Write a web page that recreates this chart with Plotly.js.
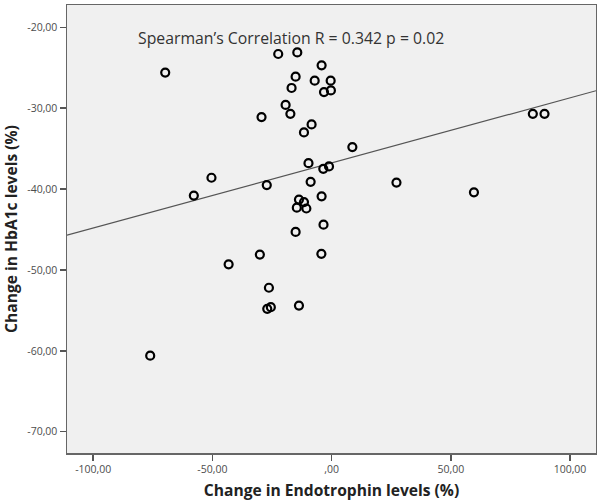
<!DOCTYPE html>
<html>
<head>
<meta charset="utf-8">
<script src="https://cdn.plot.ly/plotly-3.0.1.min.js"></script>
<style>html,body{margin:0;padding:0;background:#fff;}#chart{width:597px;height:504px;}</style>
</head>
<body>
<div id="chart"></div>
<script>
// Change in Endotrophin levels (%)
const endotrophinChange = [
  -69.8, -57.8, -76.1,
  -22.4, -14.4, -4.2, -15.1, -7.1, -0.4, -16.8, -3.2, -0.3, -19.3, -17.3, -29.4,
  -8.4, -11.6, 8.7, -9.7, -3.5, -1.1, -50.4, -27.2, -8.8, 27.2, -4.2, -13.7,
  -11.6, -14.6, -10.6, -3.4, -15.1,
  84.4, 89.3, 59.7,
  -43.2, -30.1, -4.3, -26.3, -27.0, -25.5, -13.7
];
// Change in HbA1c levels (%)
const hba1cChange = [
  -25.6, -40.8, -60.6,
  -23.3, -23.1, -24.7, -26.1, -26.6, -26.6, -27.5, -28.0, -27.8, -29.6, -30.7, -31.1,
  -32.0, -33.0, -34.8, -36.8, -37.5, -37.2, -38.6, -39.5, -39.1, -39.2, -40.9, -41.3,
  -41.6, -42.3, -42.4, -44.4, -45.3,
  -30.7, -30.7, -40.4,
  -49.3, -48.1, -48.0, -52.2, -54.8, -54.6, -54.4
];
// Linear fit (as drawn in the reference)
const fitIntercept = -36.77;
const fitSlope = 0.0805;

const xTickVals = [-100, -50, 0, 50, 100];
const xTickText = ["-100,00", "-50,00", ",00", "50,00", "100,00"];
const yTickVals = [-20, -30, -40, -50, -60, -70];
const yTickText = ["-20,00", "-30,00", "-40,00", "-50,00", "-60,00", "-70,00"];

const xRange = [-111.0, 110.9];
const yRange = [-72.63, -17.24];

const fitX = xRange.slice();
const fitY = fitX.map(x => fitIntercept + fitSlope * x);

const data = [
  {
    x: fitX, y: fitY, type: 'scatter', mode: 'lines',
    line: {color: '#555555', width: 1.2},
    hoverinfo: 'skip', showlegend: false
  },
  {
    x: endotrophinChange, y: hba1cChange, type: 'scatter', mode: 'markers',
    marker: {symbol: 'circle-open', size: 8, color: '#000000', line: {width: 2.2, color: '#000000'}},
    showlegend: false
  }
];

const tickFont = {family: 'Open Sans, sans-serif', size: 10.5, color: '#4d4d4d'};
const titleFont = {family: 'Open Sans, sans-serif', size: 15.6, color: '#222222', weight: 'bold'};

const layout = {
  width: 597, height: 504,
  margin: {l: 67, r: 1, t: 5, b: 51},
  paper_bgcolor: '#ffffff',
  plot_bgcolor: '#f0f0f0',
  showlegend: false,
  xaxis: {
    range: xRange, tickvals: xTickVals, ticktext: xTickText,
    ticks: 'outside', ticklen: 6, tickwidth: 1.5, tickcolor: '#555555',
    showgrid: false, zeroline: false,
    showline: true, mirror: true, linecolor: '#666666', linewidth: 1.5,
    tickfont: tickFont,
    title: {text: 'Change in Endotrophin levels (%)', font: titleFont, standoff: 10}
  },
  yaxis: {
    range: yRange, tickvals: yTickVals, ticktext: yTickText,
    ticks: 'outside', ticklen: 6, tickwidth: 1.5, tickcolor: '#555555',
    showgrid: false, zeroline: false,
    showline: true, mirror: true, linecolor: '#666666', linewidth: 1.5,
    tickfont: tickFont,
    title: {text: 'Change in HbA1c levels (%)', font: titleFont, standoff: 10}
  },
  annotations: [{
    xref: 'paper', yref: 'paper', x: 0.424, y: 0.927,
    xanchor: 'center', yanchor: 'middle', showarrow: false,
    text: 'Spearman\u2019s Correlation R = 0.342 p = 0.02',
    font: {family: 'Open Sans, sans-serif', size: 15.8, color: '#333333'}
  }]
};

Plotly.newPlot('chart', data, layout, {staticPlot: true, displayModeBar: false});
</script>
</body>
</html>
